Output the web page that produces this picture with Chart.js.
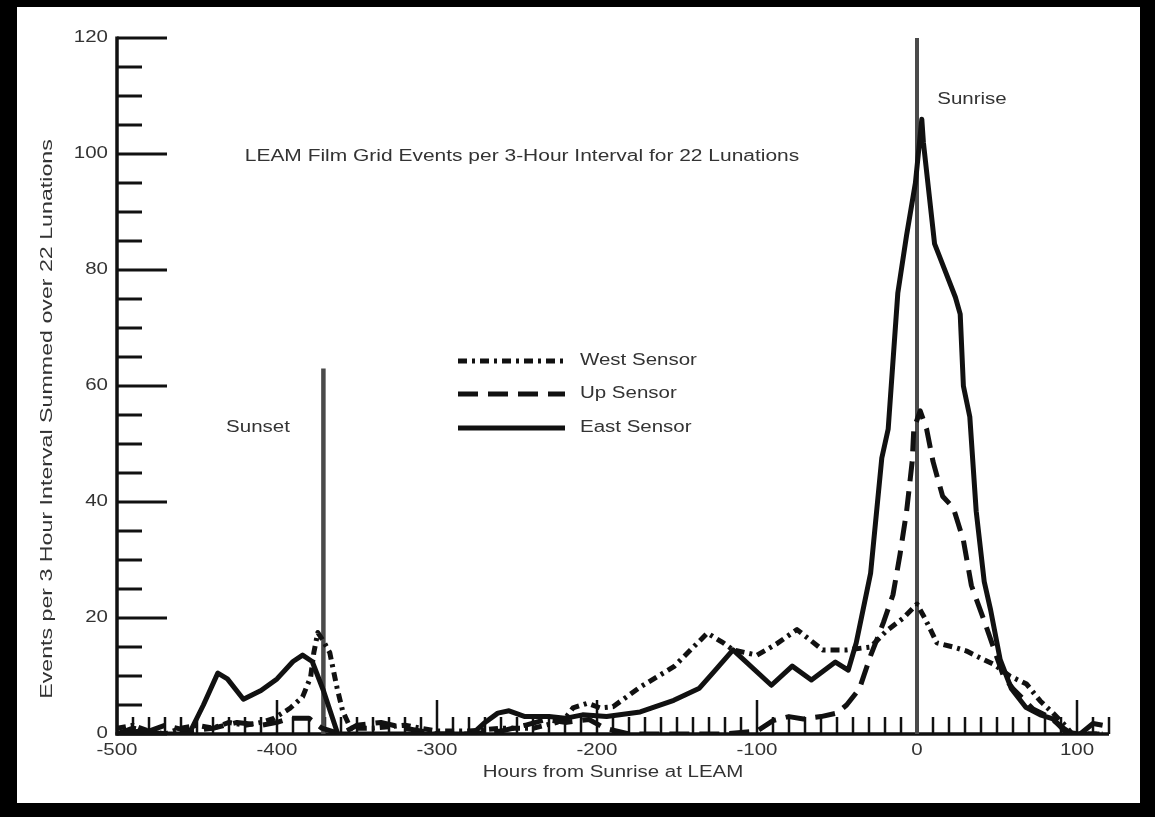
<!DOCTYPE html>
<html>
<head>
<meta charset="utf-8">
<script src="https://cdn.jsdelivr.net/npm/chart.js@4.4.1/dist/chart.umd.min.js"></script>
<style>
  html, body { margin: 0; padding: 0; background: #000; width: 1155px; height: 817px; overflow: hidden; }
  #wrap { position: absolute; left: 17px; top: 7px; width: 1123px; height: 796px; background: #fff; }
  canvas { display: block; }
</style>
</head>
<body>
<div id="wrap"><canvas id="leam" width="1123" height="796"></canvas></div>
<script>
/* ─── DATA (hours from sunrise / events per 3 h) ──────────── */
const eastHours = [-500,-485,-470,-455,-446,-437,-431,-421,-410,-400,-390,-384,-378,-371,-362,-340,-300,-278,-270,-262,-255,-245,-230,-220,-209,-194,-173,-152,-136,-127,-115,-91,-78,-66,-51,-43,-38,-29,-22,-18,-12,-6.5,-1,3,4,11,14,24,27,29,33,37,42,46,52,59,68,77,85,93,102,110,116];
const eastValues = [0,0.5,0,0,5,10.5,9.5,6,7.5,9.5,12.5,13.6,12.5,7.5,0,0,0,0,2,3.6,4,3,3,2.7,3.3,3,3.8,5.8,7.9,10.7,14.5,8.4,11.7,9.3,12.4,11,15.7,27.7,47.6,52.6,76,86,95,106,102,84.5,82.4,75.3,72.4,60,54.7,38.4,26.3,21.4,12.8,7.8,4.6,3.3,2.6,0.3,0,1.8,1.5];

const upHours  = [-500,-490,-480,-470,-455,-440,-425,-410,-400,-392,-380,-372,-360,-350,-335,-320,-300,-280,-260,-245,-232,-220,-205,-195,-180,-120,-100,-90,-80,-71,-60,-50,-44,-36,-29,-21,-15,-10.6,-6.5,-3,-2,2,6,10,16,22.7,29,34,41.5,47.7,54,60,72.5,83,91,97,116];
const upValues = [0,1,0.5,1.5,0.5,1,2,1.5,2,2.7,2.7,1,0,1.5,2,1,0,0,0.5,1.5,2.5,2,2.5,1,0,0,0.5,2.3,3,2.6,3,3.6,5,7.8,13.5,19.2,24,31,38.4,47,52.6,55.7,52.6,47,41,39,33.4,25.6,19.9,15,10,7.8,4.3,2.9,1.1,0,0];

const westHours  = [-500,-490,-480,-470,-460,-450,-440,-430,-420,-410,-402,-392,-384,-379,-377,-374.5,-371,-367,-362.5,-359,-354,-340,-320,-300,-280,-260,-240,-225,-219,-215,-206,-198,-190,-173,-152,-131,-121,-115,-100,-88,-75,-59,-44,-29,-19,-9,0,5,12.5,22.7,31,39,48,58,68.5,77,85,92.5,97,116];
const westValues = [1,1.5,0.5,0,1,1.5,1,2,1.5,2,2.7,4.4,6.4,9.8,14,17.5,16,14,8,4,1,1,1.5,0.5,0.5,1,1,2,3,4.5,5.3,4.5,4.7,8.1,11.6,17.4,15.7,14.5,13.6,15.5,18,14.5,14.5,15,17.8,19.9,22.4,19.9,15.7,15,14.3,13.2,12,10,8.6,5.7,3.6,1.5,0,0];

const sunsetHour  = -371;
const sunsetTop   = 63;
const sunriseHour = 0;

const xTickLabels = [-500, -400, -300, -200, -100, 0, 100];
const yTickLabels = [0, 20, 40, 60, 80, 100, 120];
const xMin = -500, xMax = 120, xMinorStep = 10;
const yMin = 0,    yMax = 120, yMinorStep = 5;

/* ─── HELPERS ─────────────────────────────────────────────── */
const FONT    = '"Liberation Sans", Arial, sans-serif';
const STRETCH = 1.28;
const INK     = '#111';
const TEXT    = '#333';

const pts = (hs, vs) => hs.map((h, i) => ({ x: h, y: vs[i] }));

function drawText(ctx, text, x, y, o = {}) {
  ctx.save();
  ctx.translate(x, y);
  if (o.rotate) ctx.rotate(-Math.PI / 2);
  ctx.scale(o.sx || STRETCH, 1);
  ctx.font = `${o.size || 16}px ${FONT}`;
  ctx.fillStyle = TEXT;
  ctx.textAlign = o.align || 'center';
  ctx.textBaseline = 'middle';
  ctx.fillText(text, 0, 0);
  ctx.restore();
}

function seg(ctx, x1, y1, x2, y2) {
  ctx.beginPath();
  ctx.moveTo(x1, y1);
  ctx.lineTo(x2, y2);
  ctx.stroke();
}

const WEST_DASH = [9, 5, 3, 5];
const UP_DASH   = [20, 10];

/* ─── AXES + ANNOTATIONS PLUGIN ───────────────────────────── */
const frame = {
  id: 'frame',
  beforeDatasetsDraw(chart) {
    const { ctx, scales: { x, y } } = chart;
    const x0 = x.getPixelForValue(xMin);
    const y0 = y.getPixelForValue(0);
    ctx.save();
    ctx.strokeStyle = INK;
    ctx.lineCap = 'butt';

    // axis lines
    ctx.lineWidth = 3.5;
    seg(ctx, x0, y.getPixelForValue(yMax) - 1.5, x0, y0 + 1.5);
    seg(ctx, x0 - 1.5, y0, x.getPixelForValue(xMax), y0);

    // y ticks, inward
    ctx.lineWidth = 3;
    for (let v = yMin; v <= yMax; v += yMinorStep) {
      const py = y.getPixelForValue(v);
      seg(ctx, x0, py, x0 + (v % 20 === 0 ? 50 : 25), py);
    }
    // x ticks, upward
    ctx.lineWidth = 2.5;
    for (let h = xMin; h <= xMax; h += xMinorStep) {
      const px = x.getPixelForValue(h);
      seg(ctx, px, y0, px, y0 - (h % 100 === 0 ? 34 : 17));
    }
    ctx.restore();

    // tick labels
    yTickLabels.forEach(v => drawText(ctx, String(v), x0 - 9, y.getPixelForValue(v), { align: 'right' }));
    xTickLabels.forEach(h => drawText(ctx, String(h), x.getPixelForValue(h), y0 + 17));
  },
  afterDraw(chart) {
    const { ctx } = chart;

    drawText(ctx, 'LEAM Film Grid Events per 3-Hour Interval for 22 Lunations', 505, 150, { sx: 1.31 });
    drawText(ctx, 'Sunset', 241, 421);
    drawText(ctx, 'Sunrise', 955, 93);
    drawText(ctx, 'Hours from Sunrise at LEAM', 596, 766);
    drawText(ctx, 'Events per 3 Hour Interval Summed over 22 Lunations', 31, 412, { rotate: true, sx: 1.45 });

    // legend
    const rows = [
      ['West Sensor', WEST_DASH, 354],
      ['Up Sensor',   UP_DASH,   387],
      ['East Sensor', [],        421],
    ];
    ctx.save();
    ctx.strokeStyle = INK;
    ctx.lineWidth = 5;
    rows.forEach(([label, dash, ly]) => {
      ctx.setLineDash(dash);
      seg(ctx, 441, ly, 548, ly);
      drawText(ctx, label, 563, ly, { align: 'left' });
    });
    ctx.restore();
  },
};

/* ─── CHART ───────────────────────────────────────────────── */
const line = (data, extra) => Object.assign({
  data, borderColor: INK, borderWidth: 5, pointRadius: 0, tension: 0,
  borderJoinStyle: 'round', fill: false,
}, extra);

new Chart(document.getElementById('leam'), {
  type: 'line',
  data: {
    datasets: [
      line(pts(eastHours, eastValues), { label: 'East Sensor', order: 1 }),
      line(pts(upHours, upValues),     { label: 'Up Sensor',   order: 2, borderDash: UP_DASH }),
      line(pts(westHours, westValues), { label: 'West Sensor', order: 3, borderDash: WEST_DASH }),
      line([{ x: sunsetHour, y: 0 }, { x: sunsetHour, y: sunsetTop }],
           { label: 'Sunset', order: 4, borderColor: '#4a4a4a', borderWidth: 4.5 }),
      line([{ x: sunriseHour, y: 0 }, { x: sunriseHour, y: yMax }],
           { label: 'Sunrise', order: 5, borderColor: '#4a4a4a', borderWidth: 4 }),
    ],
  },
  options: {
    responsive: false,
    animation: false,
    layout: { padding: { left: 100, right: 31, top: 31, bottom: 69 } },
    plugins: { legend: { display: false }, tooltip: { enabled: false } },
    scales: {
      x: { type: 'linear', min: xMin, max: xMax, display: false },
      y: { type: 'linear', min: yMin, max: yMax, display: false },
    },
  },
  plugins: [frame],
});
</script>
</body>
</html>
